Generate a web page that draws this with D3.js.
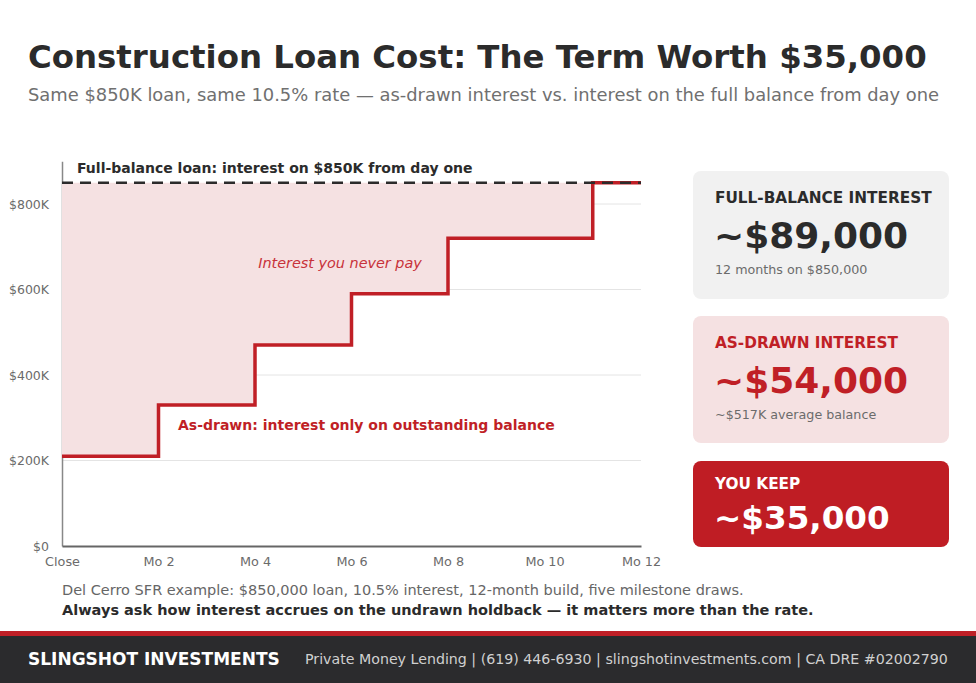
<!DOCTYPE html>
<html><head><meta charset="utf-8">
<script src="https://cdn.jsdelivr.net/npm/d3@7"></script>
<style>html,body{margin:0;padding:0;background:#fff;}svg{display:block;font-family:"DejaVu Sans",sans-serif;}</style>
</head><body>
<svg id="c" width="976" height="683"></svg>
<script>
// ---- data ----
const months = [0, 2, 4, 6, 8, 11, 12];            // draw months (step change points)
const balances = [210000, 330000, 470000, 590000, 720000, 850000, 850000]; // outstanding balance
const fullBalance = 850000;
const xTicks = [0, 2, 4, 6, 8, 10, 12];
const xTickLabels = ["Close", "Mo 2", "Mo 4", "Mo 6", "Mo 8", "Mo 10", "Mo 12"];
const yTicks = [0, 200000, 400000, 600000, 800000];
const yTickLabels = ["$0", "$200K", "$400K", "$600K", "$800K"];
const cardLabels = ["FULL-BALANCE INTEREST", "AS-DRAWN INTEREST", "YOU KEEP"];
const cardValues = ["~$89,000", "~$54,000", "~$35,000"];
const cardNotes = ["12 months on $850,000", "~$517K average balance", ""];

const red = "#c01f26", dark = "#2b2b2b", grey = "#6b6b6b";
const svg = d3.select("#c");

// titles
svg.append("text").attr("x", 28).attr("y", 68).attr("font-size", 32.4).attr("font-weight", "bold")
  .attr("fill", dark).text("Construction Loan Cost: The Term Worth $35,000");
svg.append("text").attr("x", 28).attr("y", 101).attr("font-size", 17.9).attr("fill", "#707070")
  .text("Same $850K loan, same 10.5% rate \u2014 as-drawn interest vs. interest on the full balance from day one");

// chart
const x = d3.scaleLinear().domain([0, 12]).range([62, 641]);
const y = d3.scaleLinear().domain([0, 900000]).range([546, 161.25]);
const g = svg.append("g");

// grid
g.selectAll(".grid").data(yTicks.slice(1)).join("line")
  .attr("x1", x(0)).attr("x2", x(12)).attr("y1", d => y(d)).attr("y2", d => y(d))
  .attr("stroke", "#e4e4e4").attr("stroke-width", 1);

// axes
const yAxis = d3.axisLeft(y).tickValues(yTicks).tickFormat((d, i) => yTickLabels[i]).tickSize(0).tickPadding(13);
const ya = g.append("g").attr("transform", `translate(${x(0)},0)`).call(yAxis);
ya.select(".domain").attr("stroke", "#888").attr("stroke-width", 1.5);
ya.selectAll("text").attr("font-size", 12.5).attr("fill", grey).attr("font-family", "DejaVu Sans");

// area between full balance and drawn
const area = d3.area().curve(d3.curveStepAfter)
  .x((d, i) => x(months[i])).y0(y(fullBalance)).y1(d => y(d));
g.append("path").datum(balances).attr("d", area).attr("fill", "#f5e1e2");

const xAxis = d3.axisBottom(x).tickValues(xTicks).tickFormat((d, i) => xTickLabels[i]).tickSize(0).tickPadding(11);
const xa = g.append("g").attr("transform", `translate(0,${y(0)})`).call(xAxis);
xa.select(".domain").attr("stroke", "#666").attr("stroke-width", 2);
xa.selectAll("text").attr("font-size", 12.8).attr("fill", grey).attr("font-family", "DejaVu Sans");

// step line
const line = d3.line().curve(d3.curveStepAfter).x((d, i) => x(months[i])).y(d => y(d));
g.append("path").datum(balances).attr("d", line).attr("fill", "none")
  .attr("stroke", red).attr("stroke-width", 3.5);

// dashed full-balance line (drawn on top)
g.append("line").attr("x1", x(0)).attr("x2", x(12)).attr("y1", y(fullBalance)).attr("y2", y(fullBalance))
  .attr("stroke", "#2b2b2b").attr("stroke-width", 2.5).attr("stroke-dasharray", "11,7");

// annotations
g.append("text").attr("x", 77).attr("y", 173).attr("font-size", 14).attr("font-weight", "bold")
  .attr("fill", dark).text("Full-balance loan: interest on $850K from day one");
g.append("text").attr("x", 340).attr("y", 268).attr("text-anchor", "middle").attr("font-size", 14.4)
  .attr("font-style", "italic").attr("fill", "#c8323a").text("Interest you never pay");
g.append("text").attr("x", 178).attr("y", 430).attr("font-size", 14).attr("font-weight", "bold")
  .attr("fill", red).text("As-drawn: interest only on outstanding balance");

// cards
const cardY = [171, 316, 461], cardH = [128, 127, 86];
const cardFill = ["#f1f1f1", "#f5e1e2", "#bf1d24"];
const labFill = ["#2b2b2b", red, "#ffffff"], valFill = ["#2b2b2b", red, "#ffffff"];
cardLabels.forEach((lab, i) => {
  const c = svg.append("g").attr("transform", `translate(693,${cardY[i]})`);
  c.append("rect").attr("width", 256).attr("height", cardH[i]).attr("rx", 8).attr("fill", cardFill[i]);
  c.append("text").attr("x", 22).attr("y", i === 2 ? 28 : 32).attr("font-size", i === 2 ? 15.3 : 15.3)
    .attr("font-weight", "bold").attr("fill", labFill[i]).text(lab);
  c.append("text").attr("x", 21).attr("y", i === 2 ? 68 : 77).attr("font-size", i === 2 ? 32.6 : 36)
    .attr("font-weight", "bold").attr("fill", valFill[i]).text(cardValues[i]);
  if (cardNotes[i]) c.append("text").attr("x", 22).attr("y", 103).attr("font-size", 12.7)
    .attr("fill", grey).text(cardNotes[i]);
});

// footnotes
svg.append("text").attr("x", 62).attr("y", 595).attr("font-size", 14.5).attr("fill", "#666")
  .text("Del Cerro SFR example: $850,000 loan, 10.5% interest, 12-month build, five milestone draws.");
svg.append("text").attr("x", 62).attr("y", 615).attr("font-size", 14.5).attr("font-weight", "bold")
  .attr("fill", dark).text("Always ask how interest accrues on the undrawn holdback \u2014 it matters more than the rate.");

// footer
svg.append("rect").attr("x", 0).attr("y", 631).attr("width", 976).attr("height", 52).attr("fill", "#2b2b2d");
svg.append("rect").attr("x", 0).attr("y", 631).attr("width", 976).attr("height", 5).attr("fill", red);
svg.append("text").attr("x", 28).attr("y", 665).attr("font-size", 17).attr("font-weight", "bold")
  .attr("fill", "#fff").text("SLINGSHOT INVESTMENTS");
svg.append("text").attr("x", 305).attr("y", 664).attr("font-size", 14.2).attr("fill", "#d0d0d0")
  .text("Private Money Lending | (619) 446-6930 | slingshotinvestments.com | CA DRE #02002790");
</script>
</body></html>
